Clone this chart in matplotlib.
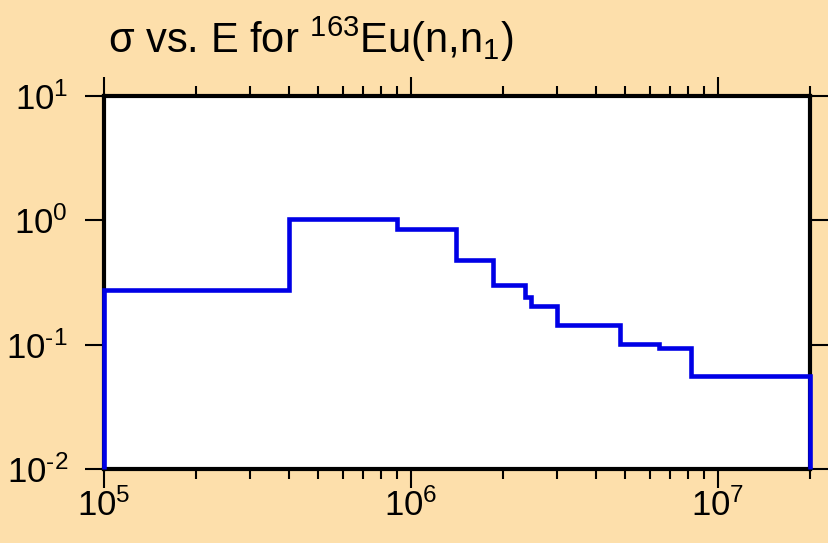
"""
Step plot of the (n,n1) cross section of 163Eu versus incident energy.
"""

import matplotlib
matplotlib.use("Agg")
import matplotlib.pyplot as plt
from matplotlib.ticker import LogLocator, FixedLocator, NullFormatter, NullLocator

# energy group boundaries (eV) and cross section per group (b)
energy_edges = [1.0e5, 4.0e5, 9.0e5, 1.40e6, 1.85e6, 2.35e6, 2.47e6,
                3.0e6, 4.8e6, 6.45e6, 8.2e6, 2.0e7]
sigma = [0.273, 1.02, 0.857, 0.483, 0.304, 0.24, 0.205,
         0.143, 0.102, 0.094, 0.056]

x_ticks = [1e5, 1e6, 1e7]
x_exps = ["5", "6", "7"]
y_ticks = [1e-2, 1e-1, 1e0, 1e1]
y_exps = [r"\text{-}2", r"\text{-}1", "0", "1"]

BG = "#FDDFAB"
LINE = "#0000E6"

plt.rcParams["font.family"] = ["Liberation Sans", "DejaVu Sans"]
plt.rcParams["mathtext.fontset"] = "custom"
plt.rcParams["mathtext.rm"] = "Liberation Sans"
plt.rcParams["mathtext.it"] = "Liberation Sans:italic"
plt.rcParams["mathtext.bf"] = "Liberation Sans:bold"
plt.rcParams["axes.unicode_minus"] = False

fig = plt.figure(figsize=(8.29, 5.43), dpi=100, facecolor=BG)
ax = fig.add_axes([104 / 829, 1 - 469 / 543, (810 - 104) / 829, (469 - 96) / 543])
ax.set_facecolor("white")

ax.stairs(sigma, energy_edges, baseline=1e-2, color=LINE, linewidth=3.3,
          zorder=5, clip_on=False)

ax.set_xscale("log")
ax.set_yscale("log")
ax.set_xlim(1e5, 2e7)
ax.set_ylim(1e-2, 1e1)

ax.xaxis.set_major_locator(FixedLocator(x_ticks))
ax.set_xticklabels([r"$\mathregular{10^{%s}}$" % s for s in x_exps])
ax.xaxis.set_minor_locator(LogLocator(base=10, subs=range(2, 10)))
ax.xaxis.set_minor_formatter(NullFormatter())
ax.yaxis.set_major_locator(FixedLocator(y_ticks))
ax.set_yticklabels([r"$\mathregular{10^{%s}}$" % s for s in y_exps])
ax.yaxis.set_minor_locator(NullLocator())

ax.tick_params(which="major", direction="out", length=14, width=1.5,
               top=True, right=True, labelsize=25, color="black")
ax.tick_params(which="minor", direction="out", length=7, width=1.5,
               top=True, right=True)
ax.tick_params(axis="x", which="major", pad=0)
ax.tick_params(axis="y", which="major", pad=12)

for side in ["top", "bottom", "left", "right"]:
    ax.spines[side].set_linewidth(3)
    ax.spines[side].set_color("black")

fig.text(108 / 829, 1 - 53 / 543, "σ vs. E for $^{163}$Eu(n,n$_1$)",
         fontsize=30, ha="left", va="baseline")

fig.savefig("out.png", dpi=100, facecolor=BG)
